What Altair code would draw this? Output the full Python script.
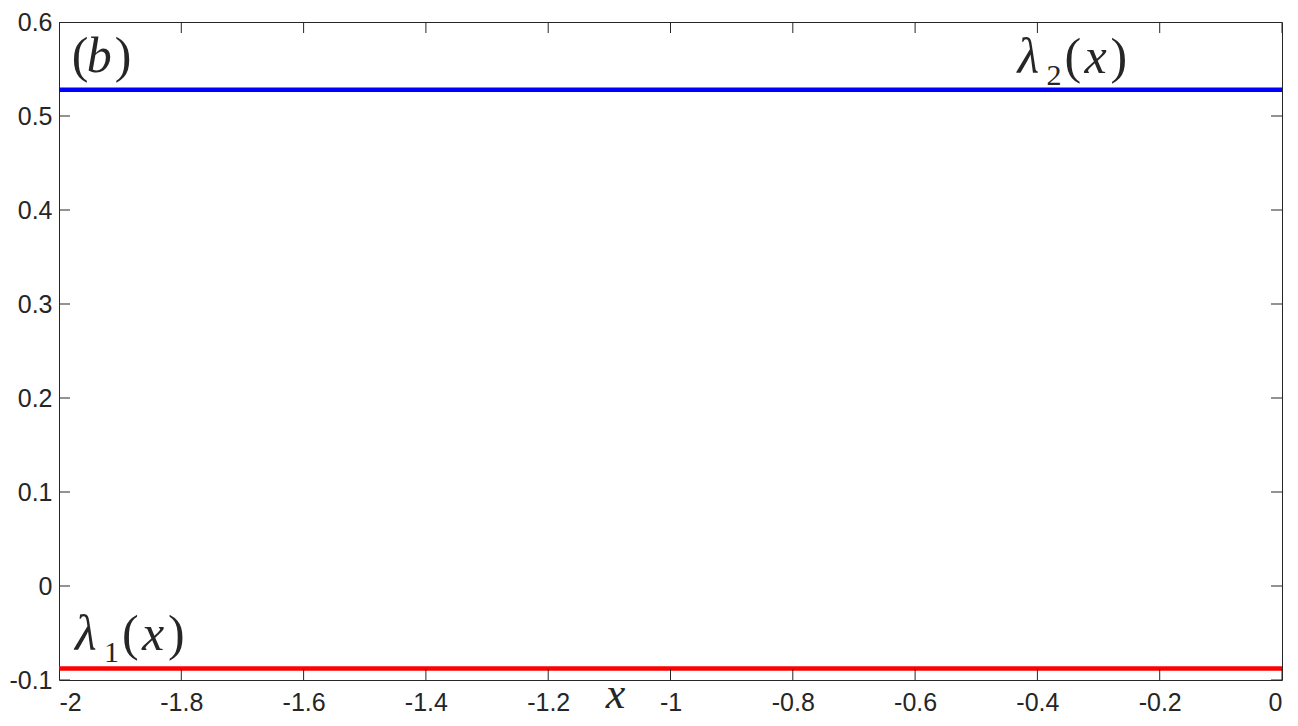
import altair as alt
import pandas as pd

# ---- data ----
x_ends = [-2.0, 0.0]
lambda1 = [-0.0877, -0.0877]
lambda2 = [0.528, 0.528]
x_ticks = [-2, -1.8, -1.6, -1.4, -1.2, -1, -0.8, -0.6, -0.4, -0.2, 0]
y_ticks = [-0.1, 0, 0.1, 0.2, 0.3, 0.4, 0.5, 0.6]

# annotation anchors (data units)
lab_x = [-1.974, -0.4324]
lab_y = [-0.0676, 0.5455]
lab_sub = ["1", "2"]
panel_x = [-1.979]
panel_y = [0.5465]

INK = "#262626"
SERIF = "Liberation Serif"
SANS = "Liberation Sans"
W, H = 1223, 658

xs = alt.Scale(domain=[-2, 0], nice=False, zero=False)
ys = alt.Scale(domain=[-0.1, 0.6], nice=False, zero=False)

lines_df = pd.DataFrame({
    "x": x_ends + x_ends,
    "y": lambda1 + lambda2,
    "s": ["l1", "l1", "l2", "l2"],
})

lines = alt.Chart(lines_df).mark_line(strokeWidth=4.5, clip=True).encode(
    x=alt.X("x:Q", scale=xs,
            axis=alt.Axis(values=x_ticks, labelExpr="datum.value + ''",
                          domain=False, ticks=False, grid=False,
                          labelFont=SANS, labelFontSize=25, labelColor=INK,
                          labelPadding=10,
                          title="x", titleFont=SERIF, titleFontStyle="italic",
                          titleFontWeight="normal", titleFontSize=44,
                          titleColor=INK, titleX=556, titleY=27,
                          titleAlign="center", titleBaseline="alphabetic")),
    y=alt.Y("y:Q", scale=ys,
            axis=alt.Axis(values=y_ticks, labelExpr="datum.value + ''",
                          domain=False, ticks=False, grid=False,
                          labelFont=SANS, labelFontSize=25, labelColor=INK,
                          labelPadding=7, title=None)),
    color=alt.Color("s:N", scale=alt.Scale(domain=["l1", "l2"],
                                           range=["#ff0000", "#0000ff"]),
                    legend=None),
    detail="s:N",
)

xt_df = pd.DataFrame({"x": x_ticks})
yt_df = pd.DataFrame({"y": y_ticks})


def xtick(yv):
    return alt.Chart(xt_df).mark_tick(orient="vertical", size=22, thickness=1,
                                      color=INK, clip=True, opacity=1).encode(
        x=alt.X("x:Q", scale=xs), y=alt.Y(datum=yv, scale=ys))


def ytick(xv):
    return alt.Chart(yt_df).mark_tick(orient="horizontal", size=22, thickness=1,
                                      color=INK, clip=True, opacity=1).encode(
        y=alt.Y("y:Q", scale=ys), x=alt.X(datum=xv, scale=xs))


ticks = [xtick(-0.1), xtick(0.6), ytick(-2), ytick(0)]

lab_df = pd.DataFrame({"x": lab_x, "y": lab_y, "sub": lab_sub})
pan_df = pd.DataFrame({"x": panel_x, "y": panel_y})


def piece(df, txt, dx, size=50, italic=False, dy=0, field=None):
    kw = dict(font=SERIF, fontSize=size, align="left", baseline="alphabetic",
              dx=dx, dy=dy, color=INK)
    if italic:
        kw["fontStyle"] = "italic"
    enc = dict(x=alt.X("x:Q", scale=xs), y=alt.Y("y:Q", scale=ys))
    if field:
        enc["text"] = alt.Text(field + ":N")
    else:
        kw["text"] = txt
    return alt.Chart(df).mark_text(**kw).encode(**enc)


labels = [
    piece(lab_df, "λ", 0, italic=True),
    piece(lab_df, None, 29, size=30, dy=12, field="sub"),
    piece(lab_df, "(", 47),
    piece(lab_df, "x", 67, italic=True),
    piece(lab_df, ")", 93),
    piece(pan_df, "(", 0),
    piece(pan_df, "b", 15, italic=True),
    piece(pan_df, ")", 43),
]

chart = alt.layer(lines, *ticks, *labels).properties(
    width=W, height=H,
    padding={"left": 51, "top": 14, "right": 8, "bottom": 36},
    autosize=alt.AutoSizeParams(type="none"),
    background="white",
).configure_view(stroke=INK, strokeWidth=1)

chart.save("out.html", embed_options={"renderer": "svg", "actions": False})
